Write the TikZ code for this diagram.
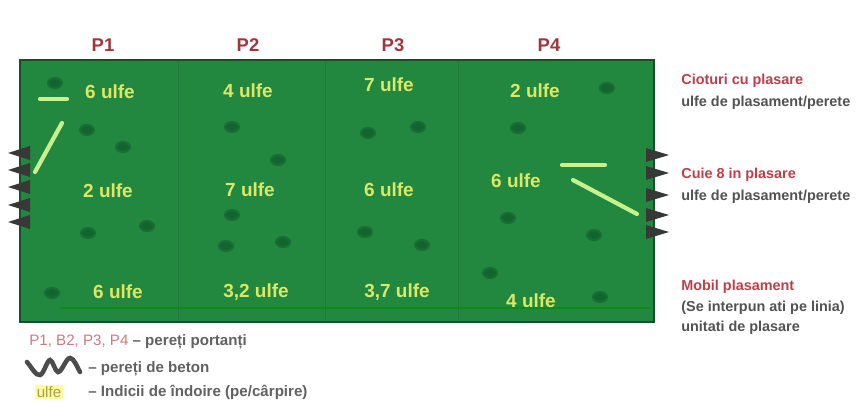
\documentclass[tikz,border=0pt]{standalone}
\usepackage{fontspec}
\setmainfont{Liberation Sans}
\definecolor{slabgreen}{HTML}{22883F}
\definecolor{slabedge}{HTML}{16502B}
\definecolor{spotgreen}{HTML}{14642F}
\definecolor{tiegreen}{HTML}{C8F08C}
\definecolor{notered}{HTML}{B8404A}
\begin{document}
\begin{tikzpicture}[
    x=0.02cm, y=-0.02cm,
    spanlabel/.style={font=\fontsize{10.5pt}{12pt}\selectfont\bfseries, text=notered!85!black},
    loadlabel/.style={font=\fontsize{10.8pt}{12pt}\selectfont\bfseries, text=yellow!35!tiegreen},
    notelabel/.style={font=\fontsize{8.2pt}{12.6pt}\selectfont\bfseries, text=black!68, align=left, anchor=north west, inner sep=0pt},
    legendlabel/.style={font=\fontsize{8.6pt}{10pt}\selectfont\bfseries, text=black!62, anchor=west, inner sep=0pt},
    spot/.style={fill=spotgreen, draw=spotgreen!70!slabgreen, line width=1.2pt},
    tieline/.style={draw=tiegreen, line width=2.4pt, line cap=round},
    tooth/.style={fill=black!78},
]
\useasboundingbox (0,0) rectangle (856,409);

% Slab
\node[draw=slabedge, fill=slabgreen, line width=1.6pt, minimum width=12.68cm,
      minimum height=5.24cm, inner sep=0pt] (slab) at (337,191) {};
\foreach \xdiv in {178,325,458}
    \draw[slabedge, opacity=0.3] (\xdiv,62) -- (\xdiv,320);
\draw[green!55!black, opacity=0.6, line width=1pt] (60,308) -- (650,308);

% Span names
\node[spanlabel] (pa) at (103,45) {P1};
\node[spanlabel] (pb) at (248,45) {P2};
\node[spanlabel] (pc) at (393,45) {P3};
\node[spanlabel] (pd) at (549,45) {P4};

% Bar counts
\foreach \xpos/\ypos/\txt/\nm in {
    110/92/{6 ulfe}/ua, 248/91/{4 ulfe}/ub, 389/85/{7 ulfe}/uc, 535/91/{2 ulfe}/ud,
    108/191/{2 ulfe}/ue, 250/190/{7 ulfe}/uf, 389/190/{6 ulfe}/ug, 516/181/{6 ulfe}/uh,
    118/292/{6 ulfe}/ui, 256/292/{3,2 ulfe}/uj, 397/292/{3,7 ulfe}/uk, 531/301/{4 ulfe}/ul}
    \node[loadlabel] (\nm) at (\xpos,\ypos) {\txt};

% Columns
\foreach \xpos/\ypos in {
    55/83, 87/130, 123/147, 232/127, 278/160, 368/133, 418/127, 518/128, 607/88,
    88/233, 147/226, 232/215, 226/246, 283/242, 365/232, 422/245, 508/218, 594/235,
    490/273, 600/297, 52/293}
    \fill[spot] (\xpos,\ypos) ellipse (7 and 5);

% Ties on the left and right
\coordinate (tla) at (62,123);
\coordinate (tlb) at (35,172);
\coordinate (tlc) at (40,99);
\coordinate (tld) at (67,99);
\coordinate (tra) at (637,214);
\coordinate (trb) at (573,180);
\coordinate (trc) at (562,165);
\coordinate (trd) at (605,165);
\draw[tieline] (tla) -- (tlb);
\draw[tieline] (tlc) -- (tld);
\draw[tieline] (tra) -- (trb);
\draw[tieline] (trc) -- (trd);

% Wall teeth
\foreach \ypos in {153,170,187,205,222}
    \fill[tooth] (30,\ypos-7) -- (8,\ypos) -- (30,\ypos+7) -- cycle;
\foreach \ypos in {155,173,195,215,232}
    \fill[tooth] (646,\ypos-7) -- (669,\ypos) -- (646,\ypos+7) -- cycle;

% Notes on the right
\node[notelabel] (notea) at (681,74) {\textcolor{notered}{Cioturi cu plasare}\\ulfe de plasament/perete};
\node[notelabel] (noteb) at (681,168) {\textcolor{notered}{Cuie 8 in plasare}\\ulfe de plasament/perete};
\node[notelabel] (notec) at (681,280) {\textcolor{notered}{Mobil plasament}\\[-1pt](Se interpun ati pe linia)\\[-1pt]unitati de plasare};

% Legend
\node[legendlabel] (lega) at (29,342) {\textcolor{notered!70}{\mdseries P1, B2, P3, P4} -- pereți portanți};
\coordinate (wava) at (27,362);
\coordinate (wavb) at (80,372);
\draw[black!70, line width=2.6pt, line cap=round] (wava) .. controls (32,368) and (36,376) .. (40,375)
    .. controls (44,374) and (47,360) .. (50,360) .. controls (53,360) and (55,372) .. (58,372)
    .. controls (62,372) and (66,358) .. (70,358) .. controls (74,358) and (77,367) .. (wavb);
\node[legendlabel] (legb) at (88,369) {-- pereți de beton};
\node[fill=yellow!35, text=yellow!60!black, font=\fontsize{8.6pt}{10pt}\selectfont, inner sep=1pt] (legc) at (49,392) {ulfe};
\node[legendlabel] (legd) at (88,392) {-- Indicii de îndoire (pe/cârpire)};

\end{tikzpicture}
\end{document}
